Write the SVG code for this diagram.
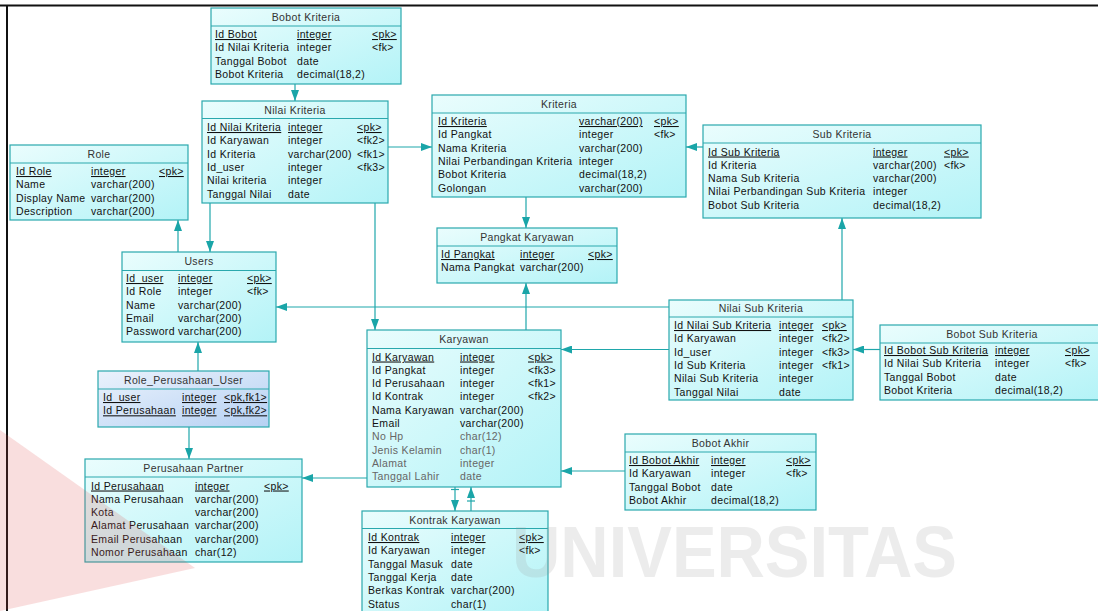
<svg xmlns="http://www.w3.org/2000/svg" width="1098" height="611" viewBox="0 0 1098 611">
<style>
.box{fill:url(#cy);stroke:#2aa8ad;stroke-width:1.2}
.box2{fill:url(#bl);stroke:#2aa8ad;stroke-width:1.2}
.sep{stroke:#2aa8ad;stroke-width:1}
text{font-family:"Liberation Sans",Arial,sans-serif;font-size:10.5px;letter-spacing:.35px;fill:#111}
.ttl{text-anchor:middle;fill:#333}
.u{text-decoration:underline}
.g{fill:#666}
.cn path{fill:none;stroke:#1fa7ab;stroke-width:1.2}
.cn .a{marker-end:url(#ar)}
</style>
<defs>
<linearGradient id="cy" x1="0" y1="0" x2="1" y2="1"><stop offset="0" stop-color="#eafdfd"/><stop offset="1" stop-color="#b3f3f7"/></linearGradient>
<linearGradient id="bl" x1="0" y1="0" x2="1" y2="1"><stop offset="0" stop-color="#eaf2fc"/><stop offset="1" stop-color="#b6d1f3"/></linearGradient>
<marker id="ar" markerWidth="11" markerHeight="8" refX="11" refY="4" orient="auto" markerUnits="userSpaceOnUse"><path d="M0,0 L11,4 L0,8 z" fill="#1aa5a8"/></marker>
</defs>
<rect width="1098" height="611" fill="#fff"/>
<path d="M0,5.5 H1098 M7,5 V611" stroke="#111" stroke-width="2" fill="none"/>

<g class="cn" id="connectors">
<path class="a" d="M295,84 V101"/>
<path class="a" d="M388,147 H432"/>
<path class="a" d="M703,147 H686"/>
<path class="a" d="M210,203 V252"/>
<path class="a" d="M375,203 V330"/>
<path class="a" d="M178,252 V220"/>
<path class="a" d="M526,197 V228"/>
<path class="a" d="M526,330 V283"/>
<path class="a" d="M842,300 V218"/>
<path class="a" d="M669,307 H276"/>
<path class="a" d="M669,349.5 H561"/>
<path class="a" d="M880,349.5 H853"/>
<path class="a" d="M625,471 H561"/>
<path class="a" d="M367,478 H302"/>
<path class="a" d="M198,371 V342"/>
<path class="a" d="M189,427 V459"/>
<path class="a" d="M455,487 V511"/>
<path d="M451,489.5 H459"/>
<path class="a" d="M471,511 V487"/>
<path d="M467,501 H475"/>
</g>

<g id="bobot-kriteria">
<rect class="box" x="211" y="8" width="190" height="76"/>
<line class="sep" x1="211" y1="26" x2="401" y2="26"/>
<text class="ttl" x="306" y="20.5">Bobot Kriteria</text>
<text class="u" x="215" y="38">Id Bobot</text><text class="u" x="297" y="38">integer</text><text class="u" x="372" y="38">&lt;pk&gt;</text>
<text x="215" y="51.3">Id Nilai Kriteria</text><text x="297" y="51.3">integer</text><text x="372" y="51.3">&lt;fk&gt;</text>
<text x="215" y="64.6">Tanggal Bobot</text><text x="297" y="64.6">date</text>
<text x="215" y="77.9">Bobot Kriteria</text><text x="297" y="77.9">decimal(18,2)</text>
</g>

<g id="nilai-kriteria">
<rect class="box" x="202" y="101" width="186" height="102"/>
<line class="sep" x1="202" y1="118.5" x2="388" y2="118.5"/>
<text class="ttl" x="295" y="113.5">Nilai Kriteria</text>
<text class="u" x="207" y="131">Id Nilai Kriteria</text><text class="u" x="288" y="131">integer</text><text class="u" x="357" y="131">&lt;pk&gt;</text>
<text x="207" y="144.3">Id Karyawan</text><text x="288" y="144.3">integer</text><text x="357" y="144.3">&lt;fk2&gt;</text>
<text x="207" y="157.6">Id Kriteria</text><text x="288" y="157.6">varchar(200)</text><text x="357" y="157.6">&lt;fk1&gt;</text>
<text x="207" y="170.9">Id_user</text><text x="288" y="170.9">integer</text><text x="357" y="170.9">&lt;fk3&gt;</text>
<text x="207" y="184.2">Nilai kriteria</text><text x="288" y="184.2">integer</text>
<text x="207" y="197.5">Tanggal Nilai</text><text x="288" y="197.5">date</text>
</g>

<g id="role">
<rect class="box" x="10" y="145" width="178" height="75"/>
<line class="sep" x1="10" y1="163" x2="188" y2="163"/>
<text class="ttl" x="99" y="157.5">Role</text>
<text class="u" x="16" y="175">Id Role</text><text class="u" x="91" y="175">integer</text><text class="u" x="159" y="175">&lt;pk&gt;</text>
<text x="16" y="188.3">Name</text><text x="91" y="188.3">varchar(200)</text>
<text x="16" y="201.6">Display Name</text><text x="91" y="201.6">varchar(200)</text>
<text x="16" y="214.9">Description</text><text x="91" y="214.9">varchar(200)</text>
</g>

<g id="kriteria">
<rect class="box" x="432" y="95" width="254" height="102"/>
<line class="sep" x1="432" y1="113" x2="686" y2="113"/>
<text class="ttl" x="559" y="107.5">Kriteria</text>
<text class="u" x="438" y="125">Id Kriteria</text><text class="u" x="579" y="125">varchar(200)</text><text class="u" x="654" y="125">&lt;pk&gt;</text>
<text x="438" y="138.3">Id Pangkat</text><text x="579" y="138.3">integer</text><text x="654" y="138.3">&lt;fk&gt;</text>
<text x="438" y="151.6">Nama Kriteria</text><text x="579" y="151.6">varchar(200)</text>
<text x="438" y="164.9">Nilai Perbandingan Kriteria</text><text x="579" y="164.9">integer</text>
<text x="438" y="178.2">Bobot Kriteria</text><text x="579" y="178.2">decimal(18,2)</text>
<text x="438" y="191.5">Golongan</text><text x="579" y="191.5">varchar(200)</text>
</g>

<g id="sub-kriteria">
<rect class="box" x="703" y="125" width="278" height="93"/>
<line class="sep" x1="703" y1="143" x2="981" y2="143"/>
<text class="ttl" x="842" y="137.5">Sub Kriteria</text>
<text class="u" x="708" y="155.5">Id Sub Kriteria</text><text class="u" x="873" y="155.5">integer</text><text class="u" x="944" y="155.5">&lt;pk&gt;</text>
<text x="708" y="168.8">Id Kriteria</text><text x="873" y="168.8">varchar(200)</text><text x="944" y="168.8">&lt;fk&gt;</text>
<text x="708" y="182.1">Nama Sub Kriteria</text><text x="873" y="182.1">varchar(200)</text>
<text x="708" y="195.4">Nilai Perbandingan Sub Kriteria</text><text x="873" y="195.4">integer</text>
<text x="708" y="208.7">Bobot Sub Kriteria</text><text x="873" y="208.7">decimal(18,2)</text>
</g>

<g id="users">
<rect class="box" x="122" y="252" width="154" height="90"/>
<line class="sep" x1="122" y1="270.5" x2="276" y2="270.5"/>
<text class="ttl" x="199" y="264.5">Users</text>
<text class="u" x="126" y="282">Id_user</text><text class="u" x="178" y="282">integer</text><text class="u" x="247" y="282">&lt;pk&gt;</text>
<text x="126" y="295.3">Id Role</text><text x="178" y="295.3">integer</text><text x="247" y="295.3">&lt;fk&gt;</text>
<text x="126" y="308.6">Name</text><text x="178" y="308.6">varchar(200)</text>
<text x="126" y="321.9">Email</text><text x="178" y="321.9">varchar(200)</text>
<text x="126" y="335.2">Password</text><text x="178" y="335.2">varchar(200)</text>
</g>

<g id="role-perusahaan-user">
<rect class="box2" x="98" y="371" width="171" height="56"/>
<line class="sep" x1="98" y1="389" x2="269" y2="389"/>
<text class="ttl" x="183.5" y="383.5">Role_Perusahaan_User</text>
<text class="u" x="103" y="401">Id_user</text><text class="u" x="182" y="401">integer</text><text class="u" x="224" y="401">&lt;pk,fk1&gt;</text>
<text class="u" x="103" y="414.3">Id Perusahaan</text><text class="u" x="182" y="414.3">integer</text><text class="u" x="224" y="414.3">&lt;pk,fk2&gt;</text>
</g>

<g id="pangkat-karyawan">
<rect class="box" x="437" y="228" width="180" height="55"/>
<line class="sep" x1="437" y1="246" x2="617" y2="246"/>
<text class="ttl" x="527" y="240.5">Pangkat Karyawan</text>
<text class="u" x="441" y="258">Id Pangkat</text><text class="u" x="520" y="258">integer</text><text class="u" x="588" y="258">&lt;pk&gt;</text>
<text x="441" y="271.3">Nama Pangkat</text><text x="520" y="271.3">varchar(200)</text>
</g>

<g id="karyawan">
<rect class="box" x="367" y="330" width="194" height="157"/>
<line class="sep" x1="367" y1="348.5" x2="561" y2="348.5"/>
<text class="ttl" x="464" y="342.5">Karyawan</text>
<text class="u" x="372" y="360.5">Id Karyawan</text><text class="u" x="460" y="360.5">integer</text><text class="u" x="528" y="360.5">&lt;pk&gt;</text>
<text x="372" y="373.8">Id Pangkat</text><text x="460" y="373.8">integer</text><text x="528" y="373.8">&lt;fk3&gt;</text>
<text x="372" y="387.1">Id Perusahaan</text><text x="460" y="387.1">integer</text><text x="528" y="387.1">&lt;fk1&gt;</text>
<text x="372" y="400.4">Id Kontrak</text><text x="460" y="400.4">integer</text><text x="528" y="400.4">&lt;fk2&gt;</text>
<text x="372" y="413.7">Nama Karyawan</text><text x="460" y="413.7">varchar(200)</text>
<text x="372" y="427">Email</text><text x="460" y="427">varchar(200)</text>
<text class="g" x="372" y="440.3">No Hp</text><text class="g" x="460" y="440.3">char(12)</text>
<text class="g" x="372" y="453.6">Jenis Kelamin</text><text class="g" x="460" y="453.6">char(1)</text>
<text class="g" x="372" y="466.9">Alamat</text><text class="g" x="460" y="466.9">integer</text>
<text class="g" x="372" y="480.2">Tanggal Lahir</text><text class="g" x="460" y="480.2">date</text>
</g>

<g id="nilai-sub-kriteria">
<rect class="box" x="669" y="300" width="184" height="100"/>
<line class="sep" x1="669" y1="317" x2="853" y2="317"/>
<text class="ttl" x="761" y="312">Nilai Sub Kriteria</text>
<text class="u" x="674" y="329">Id Nilai Sub Kriteria</text><text class="u" x="779" y="329">integer</text><text class="u" x="822" y="329">&lt;pk&gt;</text>
<text x="674" y="342.3">Id Karyawan</text><text x="779" y="342.3">integer</text><text x="822" y="342.3">&lt;fk2&gt;</text>
<text x="674" y="355.6">Id_user</text><text x="779" y="355.6">integer</text><text x="822" y="355.6">&lt;fk3&gt;</text>
<text x="674" y="368.9">Id Sub Kriteria</text><text x="779" y="368.9">integer</text><text x="822" y="368.9">&lt;fk1&gt;</text>
<text x="674" y="382.2">Nilai Sub Kriteria</text><text x="779" y="382.2">integer</text>
<text x="674" y="395.5">Tanggal Nilai</text><text x="779" y="395.5">date</text>
</g>

<g id="bobot-sub-kriteria">
<rect class="box" x="880" y="325" width="224" height="75"/>
<line class="sep" x1="880" y1="343" x2="1104" y2="343"/>
<text class="ttl" x="992" y="337.5">Bobot Sub Kriteria</text>
<text class="u" x="884" y="354">Id Bobot Sub Kriteria</text><text class="u" x="995" y="354">integer</text><text class="u" x="1065" y="354">&lt;pk&gt;</text>
<text x="884" y="367.3">Id Nilai Sub Kriteria</text><text x="995" y="367.3">integer</text><text x="1065" y="367.3">&lt;fk&gt;</text>
<text x="884" y="380.6">Tanggal Bobot</text><text x="995" y="380.6">date</text>
<text x="884" y="393.9">Bobot Kriteria</text><text x="995" y="393.9">decimal(18,2)</text>
</g>

<g id="bobot-akhir">
<rect class="box" x="625" y="434" width="191" height="76"/>
<line class="sep" x1="625" y1="452" x2="816" y2="452"/>
<text class="ttl" x="720.5" y="446.5">Bobot Akhir</text>
<text class="u" x="629" y="464">Id Bobot Akhir</text><text class="u" x="711" y="464">integer</text><text class="u" x="786" y="464">&lt;pk&gt;</text>
<text x="629" y="477.3">Id Karyawan</text><text x="711" y="477.3">integer</text><text x="786" y="477.3">&lt;fk&gt;</text>
<text x="629" y="490.6">Tanggal Bobot</text><text x="711" y="490.6">date</text>
<text x="629" y="503.9">Bobot Akhir</text><text x="711" y="503.9">decimal(18,2)</text>
</g>

<g id="perusahaan-partner">
<rect class="box" x="85" y="459" width="217" height="103"/>
<line class="sep" x1="85" y1="477" x2="302" y2="477"/>
<text class="ttl" x="193.5" y="471.5">Perusahaan Partner</text>
<text class="u" x="91" y="489.5">Id Perusahaan</text><text class="u" x="195" y="489.5">integer</text><text class="u" x="264" y="489.5">&lt;pk&gt;</text>
<text x="91" y="502.8">Nama Perusahaan</text><text x="195" y="502.8">varchar(200)</text>
<text x="91" y="516.1">Kota</text><text x="195" y="516.1">varchar(200)</text>
<text x="91" y="529.4">Alamat Perusahaan</text><text x="195" y="529.4">varchar(200)</text>
<text x="91" y="542.7">Email Perusahaan</text><text x="195" y="542.7">varchar(200)</text>
<text x="91" y="556">Nomor Perusahaan</text><text x="195" y="556">char(12)</text>
</g>

<g id="kontrak-karyawan">
<rect class="box" x="362" y="511" width="186" height="104"/>
<line class="sep" x1="362" y1="528.5" x2="548" y2="528.5"/>
<text class="ttl" x="455" y="523.5">Kontrak Karyawan</text>
<text class="u" x="368" y="541">Id Kontrak</text><text class="u" x="451" y="541">integer</text><text class="u" x="519" y="541">&lt;pk&gt;</text>
<text x="368" y="554.3">Id Karyawan</text><text x="451" y="554.3">integer</text><text x="519" y="554.3">&lt;fk&gt;</text>
<text x="368" y="567.6">Tanggal Masuk</text><text x="451" y="567.6">date</text>
<text x="368" y="580.9">Tanggal Kerja</text><text x="451" y="580.9">date</text>
<text x="368" y="594.2">Berkas Kontrak</text><text x="451" y="594.2">varchar(200)</text>
<text x="368" y="607.5">Status</text><text x="451" y="607.5">char(1)</text>
</g>

<g id="watermark">
<polygon points="0,430 195,568 0,611" fill="#e04848" opacity="0.18"/>
<text x="512" y="577" textLength="445" lengthAdjust="spacingAndGlyphs" opacity="0.18" style="font-size:72px;font-weight:bold;letter-spacing:0;fill:#999">UNIVERSITAS</text>
</g>
</svg>
